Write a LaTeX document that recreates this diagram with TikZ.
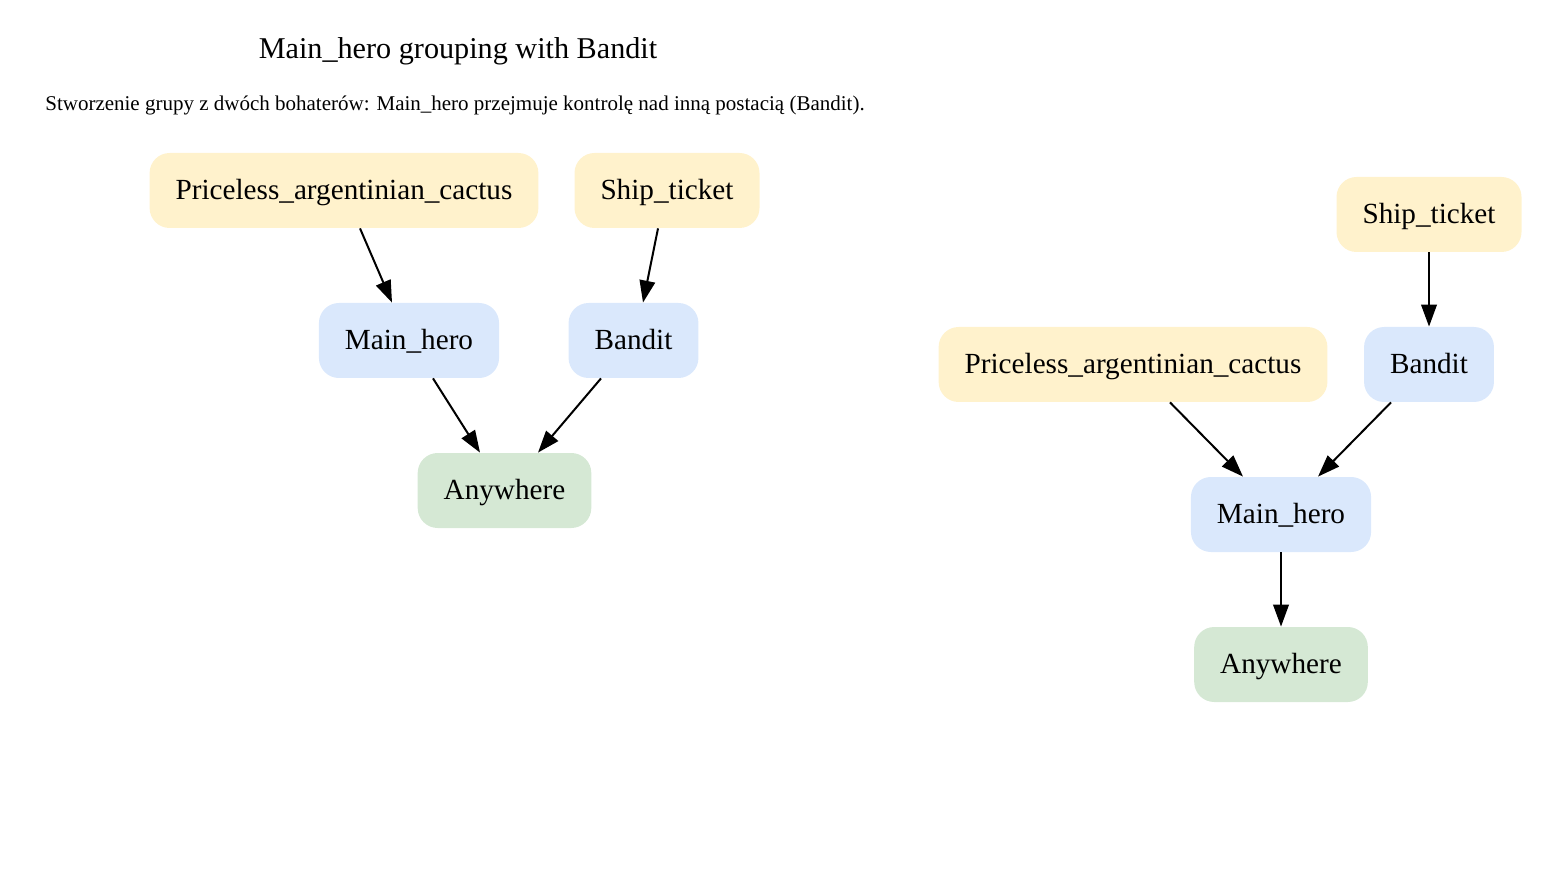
\documentclass[tikz,border=0pt]{standalone}
\usepackage{fontspec}
\setmainfont{Liberation Serif}
\usetikzlibrary{arrows.meta}
\definecolor{itemfill}{HTML}{FFF2CC}
\definecolor{herofill}{HTML}{DAE8FC}
\definecolor{placefill}{HTML}{D5E8D4}
\tikzset{
  box/.style={rounded corners=10pt, inner xsep=13pt, inner ysep=0pt,
    minimum height=37.5pt, font=\fontsize{14.6}{17}\selectfont,
    text height=11.5pt, text depth=2.5pt},
  item/.style={box, fill=itemfill},
  hero/.style={box, fill=herofill},
  place/.style={box, fill=placefill},
  link/.style={line width=1pt, -{Triangle[length=11pt, width=7.8pt]}}
}
\begin{document}
\begin{tikzpicture}[x=0.5pt, y=-0.5pt]
    \useasboundingbox (0,0) rectangle (1550,881);
    \node[anchor=base, font=\fontsize{15.1}{18}\selectfont] (title) at (458,58.5) {Main\_hero grouping with Bandit};
    \node[anchor=base, font=\fontsize{10.5}{12}\selectfont] (subtitle) at (455,111) {Stworzenie grupy z dwóch bohaterów: Main\_hero przejmuje kontrolę nad inną postacią (Bandit).};
    % before grouping
    \node[item] (cactusL) at (344,190.5) {Priceless\_argentinian\_cactus};
    \node[item] (ticketL) at (667,190.5) {Ship\_ticket};
    \node[hero] (heroL) at (409,340.5) {Main\_hero};
    \node[hero] (banditL) at (633.5,340.5) {Bandit};
    \node[place] (anywhereL) at (504.5,490.5) {Anywhere};
    \draw[link] ([shift={(16,0)}]cactusL.south) -- ([shift={(-17,0)}]heroL.north);
    \draw[link] ([shift={(-9,0)}]ticketL.south) -- ([shift={(9.5,0)}]banditL.north);
    \draw[link] ([shift={(24,0)}]heroL.south) -- ([shift={(-24.5,0)}]anywhereL.north);
    \draw[link] ([shift={(-32.5,0)}]banditL.south) -- ([shift={(33.5,0)}]anywhereL.north);
    % after grouping
    \node[item] (ticketR) at (1429,214.5) {Ship\_ticket};
    \node[item] (cactusR) at (1133,364.5) {Priceless\_argentinian\_cactus};
    \node[hero] (banditR) at (1429,364.5) {Bandit};
    \node[hero] (heroR) at (1281,514.5) {Main\_hero};
    \node[place] (anywhereR) at (1281,664.5) {Anywhere};
    \draw[link] (ticketR.south) -- (banditR.north);
    \draw[link] ([shift={(37,0)}]cactusR.south) -- ([shift={(-38,0)}]heroR.north);
    \draw[link] ([shift={(-38,0)}]banditR.south) -- ([shift={(37,0)}]heroR.north);
    \draw[link] (heroR.south) -- (anywhereR.north);
\end{tikzpicture}
\end{document}
